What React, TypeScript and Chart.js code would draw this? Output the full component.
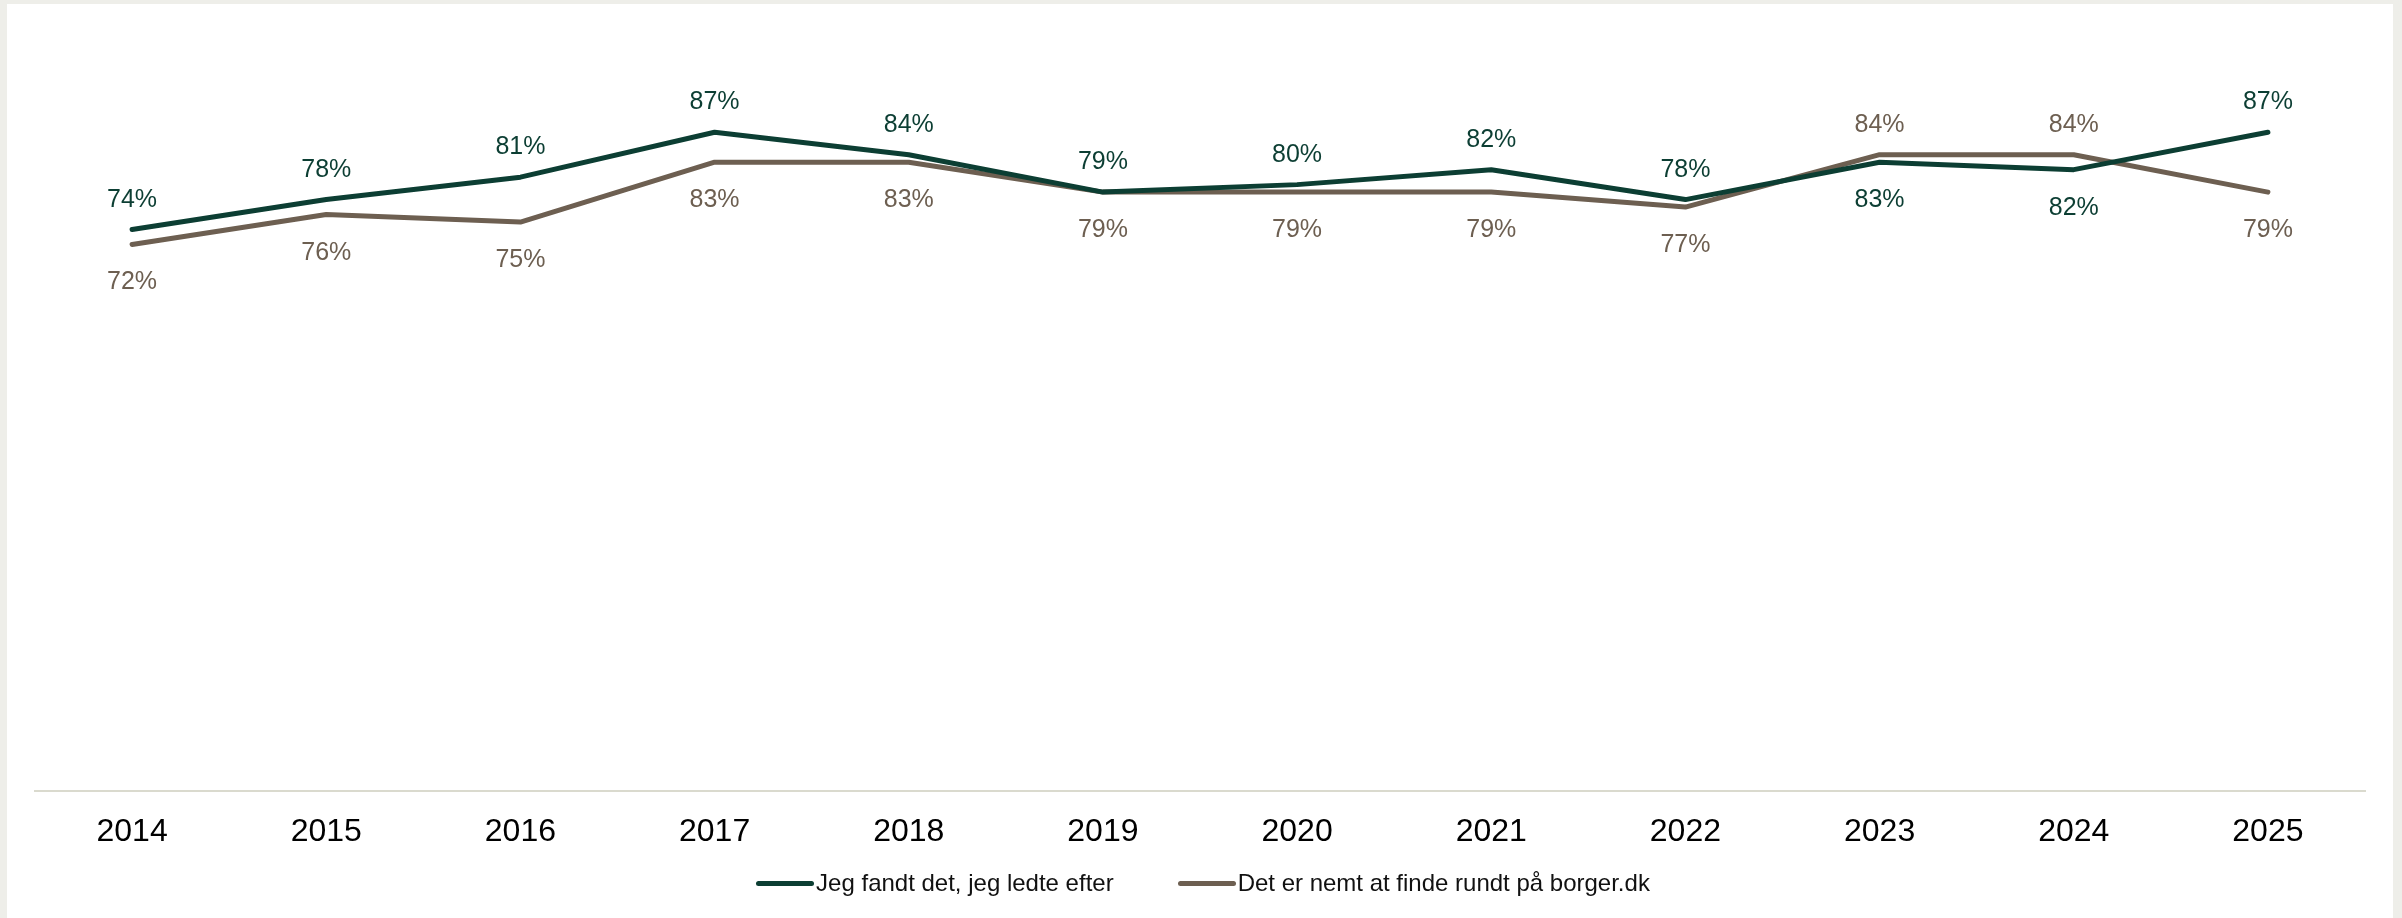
import React, { useEffect, useRef } from "react";
import { Chart, registerables } from "chart.js";

Chart.register(...registerables);

const years = ["2014", "2015", "2016", "2017", "2018", "2019", "2020", "2021", "2022", "2023", "2024", "2025"];
const foundSeries = [74, 78, 81, 87, 84, 79, 80, 82, 78, 83, 82, 87];
const easySeries = [72, 76, 75, 83, 83, 79, 79, 79, 77, 84, 84, 79];
const seriesNames = ["Jeg fandt det, jeg ledte efter", "Det er nemt at finde rundt på borger.dk"];
const seriesColors = ["#0C3E33", "#6D5F51"];

const FONT = "'Liberation Sans', Arial, Helvetica, sans-serif";

const labelPlugin = {
  id: "pointLabels",
  afterDatasetsDraw(chart: any) {
    const ctx = chart.ctx;
    ctx.save();
    ctx.font = `25px ${FONT}`;
    ctx.textAlign = "center";
    ctx.textBaseline = "alphabetic";
    const all = chart.data.datasets.map((d: any) => d.data as number[]);
    chart.data.datasets.forEach((ds: any, i: number) => {
      const meta = chart.getDatasetMeta(i);
      const other = all[1 - i];
      meta.data.forEach((pt: any, j: number) => {
        const v = ds.data[j];
        const o = other[j];
        const above = v > o || (v === o && i === 0);
        ctx.fillStyle = ds.borderColor;
        const y = above ? pt.y - 23 : pt.y + 45;
        ctx.fillText(`${v}%`, pt.x, y);
      });
    });
    ctx.restore();
  },
};

export default function App() {
  const ref = useRef<HTMLCanvasElement | null>(null);
  useEffect(() => {
    document.body.style.margin = "0";
    document.body.style.background = "#EEEEE9";
    if (!ref.current) return;
    const chart = new Chart(ref.current, {
      type: "line",
      data: {
        labels: years,
        datasets: [
          {
            label: seriesNames[0],
            data: foundSeries,
            borderColor: seriesColors[0],
            backgroundColor: seriesColors[0],
            borderWidth: 5,
            pointRadius: 0,
            borderCapStyle: "round",
            borderJoinStyle: "round",
            tension: 0,
          },
          {
            label: seriesNames[1],
            data: easySeries,
            borderColor: seriesColors[1],
            backgroundColor: seriesColors[1],
            borderWidth: 5,
            pointRadius: 0,
            borderCapStyle: "round",
            borderJoinStyle: "round",
            tension: 0,
          },
        ],
      },
      options: {
        responsive: false,
        animation: false,
        devicePixelRatio: 1,
        layout: { padding: { left: 28, right: 28, top: 31, bottom: 0 } },
        plugins: {
          legend: { display: false },
          tooltip: { enabled: false },
        },
        scales: {
          x: {
            offset: true,
            grid: { display: false, drawTicks: false },
            border: { display: true, color: "#DADACE", width: 2 },
            ticks: {
              color: "#000000",
              font: { family: FONT, size: 32 },
              padding: 22,
              maxRotation: 0,
              autoSkip: false,
            },
          },
          y: {
            display: false,
            min: -1,
            max: 100,
          },
        },
      },
      plugins: [labelPlugin],
    } as any);
    return () => chart.destroy();
  }, []);

  return (
    <div
      style={{
        position: "absolute",
        left: 7,
        top: 4,
        width: 2386,
        height: 914,
        background: "#FFFFFF",
      }}
    >
      <canvas ref={ref} width={2386} height={869} style={{ display: "block" }} />
      <div
        style={{
          position: "absolute",
          left: 6,
          right: 0,
          top: 862,
          height: 34,
          display: "flex",
          justifyContent: "center",
          alignItems: "center",
          fontFamily: FONT,
          fontSize: 24,
          color: "#111111",
          whiteSpace: "nowrap",
        }}
      >
        {seriesNames.map((name, i) => (
          <div
            key={name}
            style={{ display: "flex", alignItems: "center", marginLeft: i === 0 ? 0 : 64 }}
          >
            <div
              style={{
                width: 58,
                height: 5,
                borderRadius: 3,
                background: seriesColors[i],
                marginRight: 2,
              }}
            />
            <span>{name}</span>
          </div>
        ))}
      </div>
    </div>
  );
}
